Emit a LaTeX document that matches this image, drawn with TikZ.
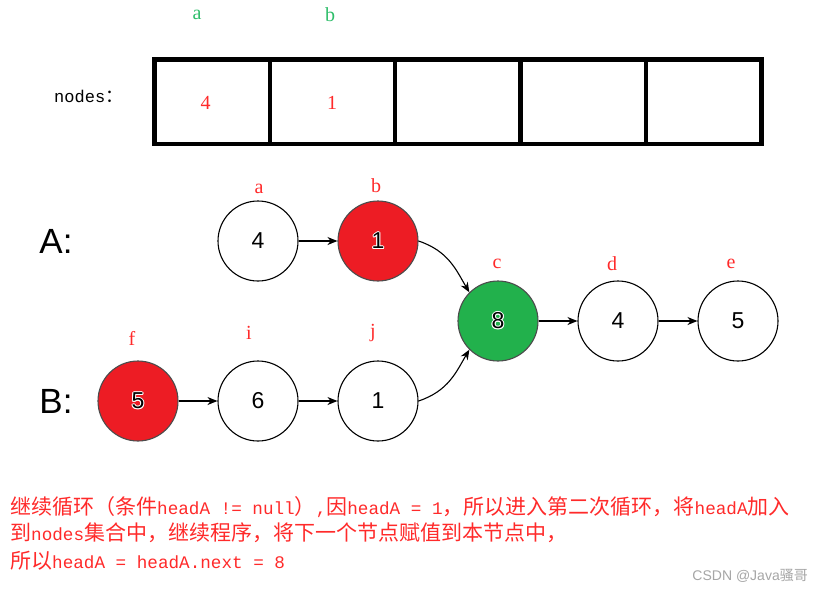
\documentclass[tikz,border=0pt]{standalone}
\usepackage{fontspec}
\setmainfont{Liberation Sans}
\newfontfamily\cjk{Noto Sans CJK SC}
\newfontfamily\mono{Liberation Mono}
\newfontfamily\mb[Scale=0.84]{Liberation Mono}
\newfontfamily\lserif{Liberation Serif}
\usetikzlibrary{arrows.meta}
\definecolor{redfill}{HTML}{ED1C24}
\definecolor{greenfill}{HTML}{22B14C}
\definecolor{redtext}{HTML}{FF2A2A}
\definecolor{greentext}{HTML}{2EBE6A}
\definecolor{wm}{HTML}{A6A6A6}
\begin{document}
\begin{tikzpicture}[x=1pt,y=-1pt,
  lnode/.style={circle,draw=black,line width=1.1pt,minimum size=80pt,inner sep=0pt},
  numtext/.style={font=\fontsize{23}{23}\selectfont,inner sep=0pt},
  lbl/.style={text=redtext,font=\lserif\fontsize{20}{20}\selectfont,inner sep=0pt},
  glbl/.style={text=greentext,font=\lserif\fontsize{20}{20}\selectfont,inner sep=0pt},
  link/.style={-{Stealth[length=10pt,width=8pt]},line width=1.1pt},
  cell/.style={line width=4.6pt},
  rowlbl/.style={font=\fontsize{35}{35}\selectfont,inner sep=0pt},
  para/.style={anchor=base west,inner sep=0pt,text=redtext,font=\cjk\fontsize{21}{21}\selectfont}
]
\useasboundingbox[fill=white] (0,0) rectangle (824,592);

% array
\draw[cell] (154.5,59.5) rectangle (761.5,144);
\foreach \xx in {270,395,520.5,646} \draw[cell] (\xx,59.5) -- (\xx,144);
\node[glbl] (ga) at (197,15) {a};
\node[glbl] (gb) at (330,15) {b};
\node[anchor=west,inner sep=0pt] (nodeslbl) at (54,96) {\mono\fontsize{17}{17}\selectfont nodes\cjk\fontsize{18}{18}\selectfont ：};
\node[text=redtext,font=\lserif\fontsize{20}{20}\selectfont,inner sep=0pt] (v1) at (205.5,103) {4};
\node[text=redtext,font=\lserif\fontsize{20}{20}\selectfont,inner sep=0pt] (v2) at (332,103) {1};

% row labels
\node[rowlbl] (A) at (56,241) {A:};
\node[rowlbl] (B) at (56,401) {B:};

% list nodes
\node[lnode] (a) at (258,241) {\fontsize{23}{23}\selectfont 4};
\node[lnode,fill=redfill,draw=black!70] (b) at (378,241) {};
\node[lnode,fill=greenfill,draw=black!70] (c) at (498,321) {};
\node[lnode] (d) at (618,321) {\fontsize{23}{23}\selectfont 4};
\node[lnode] (e) at (738,321) {\fontsize{23}{23}\selectfont 5};
\node[lnode,fill=redfill,draw=black!70] (f) at (138,401) {};
\node[lnode] (i) at (258,401) {\fontsize{23}{23}\selectfont 6};
\node[lnode] (j) at (378,401) {\fontsize{23}{23}\selectfont 1};

% haloed digits on filled nodes
\foreach \n/\t in {b/1,c/8,f/5}{
  \foreach \dx/\dy [count=\k] in {-1/0,1/0,0/-1,0/1,-0.7/-0.7,0.7/0.7,-0.7/0.7,0.7/-0.7}
    \node[numtext,text=white] (\n h\k) at ([shift={(\dx,\dy)}]\n) {\t};
  \node[numtext] (\n t) at (\n) {\t};
}

% labels
\node[lbl] (la) at (259,189) {a};
\node[lbl] (lb) at (376,186) {b};
\node[lbl] (lc) at (497,264) {c};
\node[lbl] (ld) at (612,264) {d};
\node[lbl] (le) at (731,264) {e};
\node[lbl] (lf) at (132,338) {f};
\node[lbl] (li) at (249,333) {i};
\node[lbl] (lj) at (373,333) {j};

% links
\draw[link] (a) -- (b);
\draw[link] (f) -- (i);
\draw[link] (i) -- (j);
\draw[link] (c) -- (d);
\draw[link] (d) -- (e);
\draw[link] (b.east) .. controls +(30,10) and +(-13,-22) .. (c.135);
\draw[link] (j.east) .. controls +(30,-10) and +(-13,22) .. (c.225);

% paragraph
\node[para] (p1) at (10,514) {继续循环（条件{\mb headA != null}）{\mb ,}因{\mb headA = 1}，所以进入第二次循环，将{\mb headA}加入};
\node[para] (p2) at (10,540) {到{\mb nodes}集合中，继续程序，将下一个节点赋值到本节点中，};
\node[para] (p3) at (10,568) {所以{\mb headA = headA.next = 8}};

% watermark
\node[anchor=east,inner sep=0pt,text=wm,font=\fontsize{14}{14}\selectfont] (wmk) at (808,576) {CSDN @Java{\cjk 骚哥}};
\end{tikzpicture}
\end{document}
